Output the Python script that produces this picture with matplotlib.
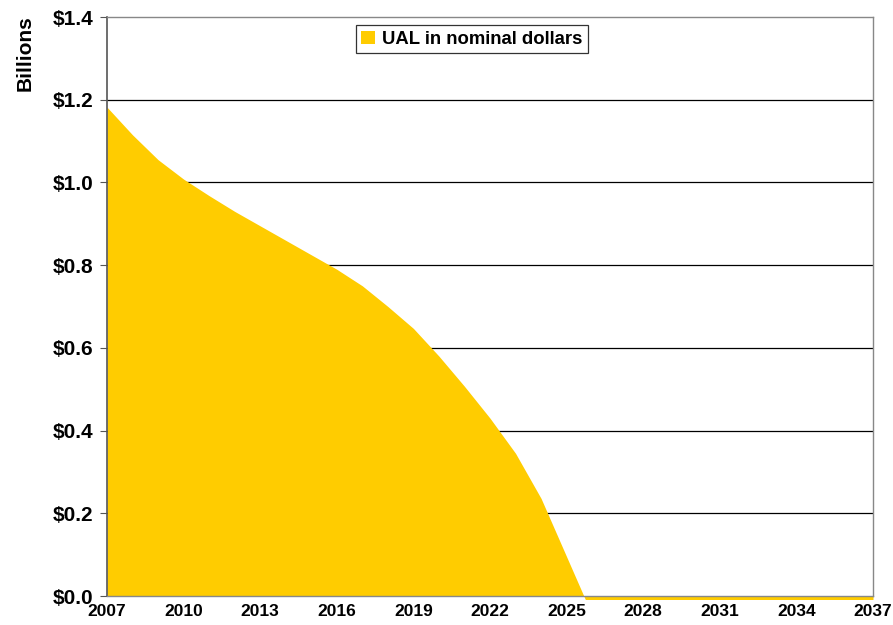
import matplotlib.pyplot as plt
from matplotlib.transforms import Bbox, TransformedBbox

plt.rcParams['font.family'] = ['Liberation Sans', 'DejaVu Sans']

years = list(range(2007, 2038))
# unfunded liability in billions; below zero after ~2025 (hidden under the axis)
ual = [1.182, 1.115, 1.055, 1.008, 0.968, 0.93, 0.895, 0.86, 0.825, 0.79,
       0.75, 0.70, 0.647, 0.58, 0.507, 0.43, 0.345, 0.236, 0.095, -0.046,
       -0.05, -0.05, -0.05, -0.05, -0.05, -0.05, -0.05, -0.05, -0.05, -0.05, -0.05]
yticks = [0.0, 0.2, 0.4, 0.6, 0.8, 1.0, 1.2, 1.4]
xticks = list(range(2007, 2038, 3))

color = "#FFCC00"
W, H = 893, 625

fig = plt.figure(figsize=(W / 100, H / 100), dpi=100)
left, bottom, width, height = 107 / W, 1 - 596 / H, 766 / W, 579 / H
ax = fig.add_axes([left, bottom, width, height])

area = ax.fill_between(years, ual, 0, color=color, lw=0,
                       label="UAL in nominal dollars", zorder=2)
# let the clipped part peek out a little below the axis, like the original
clip = TransformedBbox(Bbox.from_extents(left, bottom - 2.5 / H, left + width, bottom + height),
                       fig.transFigure)
area.set_clip_box(clip)

ax.set_xlim(2007, 2037)
ax.set_ylim(0, 1.4)
ax.set_yticks(yticks)
ax.set_yticklabels([f"${v:.1f}" for v in yticks], fontsize=15, fontweight="bold")
ax.set_xticks(xticks)
ax.set_xticklabels([str(x) for x in xticks], fontsize=12.5, fontweight="bold")
ax.tick_params(axis="x", length=0, pad=6)
ax.tick_params(axis="y", length=5, width=0.8, color="#555555", pad=5)

for v in yticks[1:-1]:
    ax.axhline(v, color="black", lw=0.9, zorder=1)

for side in ["top", "right", "bottom"]:
    ax.spines[side].set_color("#888888")
    ax.spines[side].set_linewidth(1.0)
ax.spines["left"].set_color("#555555")
ax.spines["left"].set_linewidth(1.2)

leg = ax.legend(loc="upper left", bbox_to_anchor=(0.325, 0.986),
                prop={"weight": "bold", "size": 13.3}, frameon=True, fancybox=False,
                handlelength=0.75, handleheight=0.75, handletextpad=0.35,
                borderpad=0.3, borderaxespad=0)
leg.get_frame().set_edgecolor("black")
leg.get_frame().set_linewidth(0.9)

fig.text(25 / W, 1 - 53 / H, "Billions", rotation=90, ha="center", va="center",
         fontsize=15, fontweight="bold")

fig.savefig("out.png", dpi=100)
